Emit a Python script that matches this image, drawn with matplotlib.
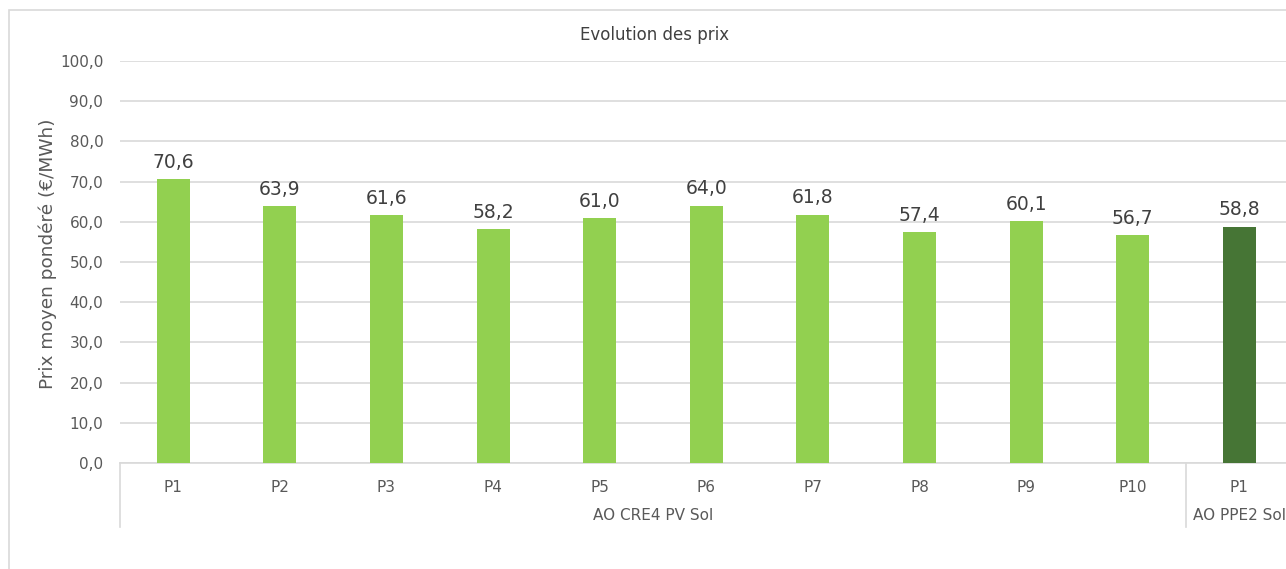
import matplotlib
matplotlib.use("Agg")
from matplotlib import pyplot as plt
from matplotlib.patches import Rectangle
from matplotlib.lines import Line2D

categories = ["P1", "P2", "P3", "P4", "P5", "P6", "P7", "P8", "P9", "P10", "P1"]
values = [70.6, 63.9, 61.6, 58.2, 61.0, 64.0, 61.8, 57.4, 60.1, 56.7, 58.8]
groups = ["AO CRE4 PV Sol", "AO PPE2 Sol"]
group_sizes = [10, 1]
group_colors = ["#92D050", "#467535"]

plt.rcParams['font.family'] = ['DejaVu Sans']
text_col = "#595959"
grid_col = "#D9D9D9"

fig = plt.figure(figsize=(12.86, 5.69), dpi=100)
W, H = 1286, 569
# outer chart frame (extends past the right edge)
fig.patches.append(Rectangle((9 / W, -0.1), 1.2, (1 - 10 / H) + 0.1, transform=fig.transFigure,
                             fill=False, edgecolor=grid_col, linewidth=1.2))

ax = fig.add_axes([120 / W, 1 - 463 / H, 11 * 106.6 / W, (463 - 61) / H])

colors = []
for g, n in enumerate(group_sizes):
    colors += [group_colors[g]] * n

x = list(range(len(values)))
bars = ax.bar(x, values, width=0.31, color=colors, zorder=3)
for xi, v in zip(x, values):
    ax.text(xi, v + 1.8, ("%.1f" % v).replace(".", ","), ha="center", va="bottom",
            fontsize=13.5, color="#404040")

ax.set_xlim(-0.5, len(values) - 0.5)
ax.set_ylim(0, 100)
ax.set_yticks(range(0, 101, 10))
ax.set_yticklabels([("%.1f" % t).replace(".", ",") for t in range(0, 101, 10)])
ax.yaxis.grid(True, color=grid_col, linewidth=1.2, zorder=0)
ax.tick_params(axis="y", length=0, labelsize=11, labelcolor=text_col, pad=12)
ax.set_xticks(x)
ax.set_xticklabels(categories)
ax.tick_params(axis="x", length=0, labelsize=11, labelcolor=text_col, pad=12)
for s in ["top", "right", "left"]:
    ax.spines[s].set_visible(False)
ax.spines["bottom"].set_color(grid_col)
ax.spines["bottom"].set_linewidth(1.2)

ax.set_ylabel("Prix moyen pondéré (€/MWh)", fontsize=13.3, color=text_col, va="center")
ax.yaxis.set_label_coords(-0.062, 0.52)
ax.set_title("Evolution des prix", fontsize=12, color="#404040", x=(655 - 120) / (11 * 106.6), pad=15)

# group separators and group labels
start = 0
trans = ax.get_xaxis_transform()
for g, n in enumerate(group_sizes):
    ax.add_line(Line2D([start - 0.5, start - 0.5], [0, -64 / 402], transform=trans,
                       color=grid_col, linewidth=1.2, clip_on=False))
    ax.text(start + (n - 1) / 2, -53 / 402, groups[g], transform=trans, ha="center", va="center",
            fontsize=11, color=text_col)
    start += n

fig.savefig("out.png", dpi=100)
